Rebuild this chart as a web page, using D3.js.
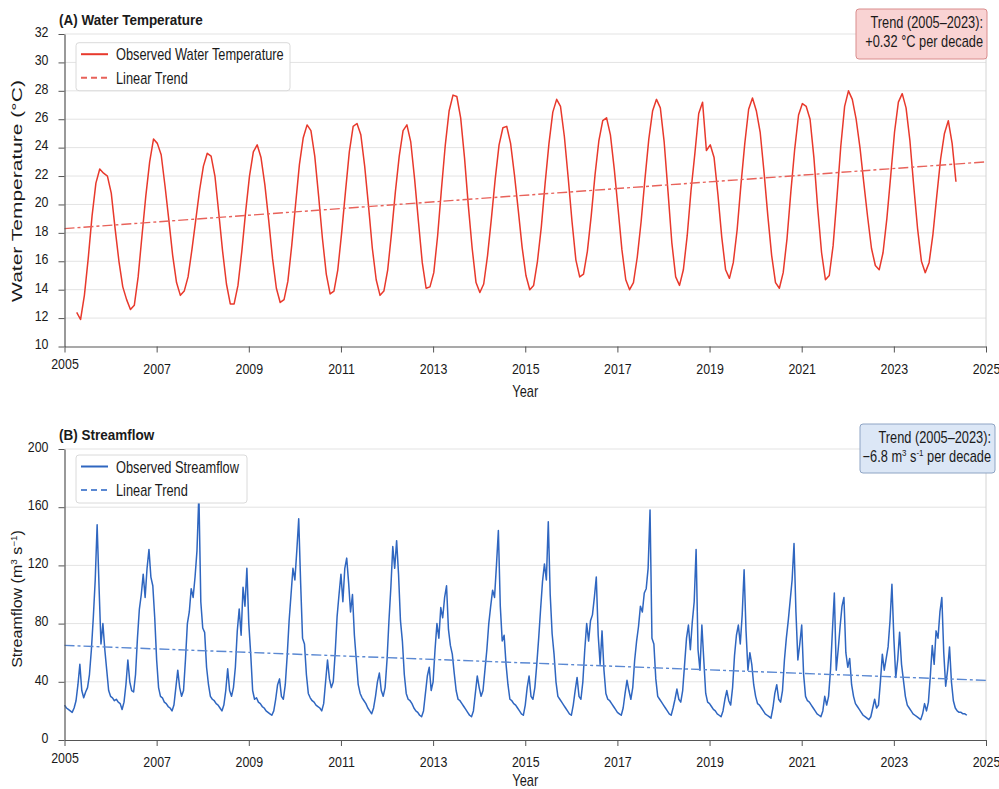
<!DOCTYPE html>
<html>
<head>
<meta charset="utf-8">
<title>Water temperature and streamflow</title>
<script src="https://cdn.jsdelivr.net/npm/d3@7/dist/d3.min.js"></script>
<style>
  body { margin: 0; background: #fff; }
  svg { display: block; font-family: "Liberation Sans", Arial, Helvetica, sans-serif; }
</style>
</head>
<body>
<svg id="chart"></svg>
<script>
// shared x axis
const yearTicks = [2005, 2007, 2009, 2011, 2013, 2015, 2017, 2019, 2021, 2023, 2025];
const trendYears = [2005, 2025];

// (A) water temperature, one reading a month from spring 2005
const tempStart = 2005.265, tempStep = 1 / 12;
const tempValues = [
  12.4, 11.9, 13.6, 16.2, 19.2, 21.5, 22.5, 22.2, 22.0, 20.8,
  18.3, 16.0, 14.2, 13.3, 12.6, 12.9, 14.9, 17.8, 20.6, 23.0,
  24.6, 24.3, 23.5, 21.3, 18.9, 16.4, 14.5, 13.6, 13.9, 14.9,
  16.8, 18.9, 21.0, 22.7, 23.6, 23.4, 22.0, 19.4, 16.7, 14.4,
  13.0, 13.0, 14.3, 16.7, 19.5, 22.0, 23.7, 24.2, 23.3, 21.4,
  18.9, 16.2, 14.1, 13.1, 13.3, 14.6, 17.1, 20.0, 22.8, 24.7,
  25.6, 25.2, 23.4, 20.6, 17.6, 15.1, 13.7, 13.9, 15.4, 18.0,
  20.9, 23.7, 25.5, 25.7, 24.9, 22.7, 19.9, 16.9, 14.7, 13.6,
  13.9, 15.4, 18.0, 20.9, 23.4, 25.2, 25.6, 24.4, 21.8, 18.8,
  15.9, 14.1, 14.2, 15.2, 17.8, 21.1, 24.2, 26.6, 27.7, 27.6,
  26.1, 23.3, 19.9, 16.9, 14.5, 13.8, 14.4, 16.4, 19.0, 21.8,
  24.2, 25.4, 25.5, 24.3, 22.1, 19.6, 17.0, 15.0, 14.0, 14.3,
  16.0, 18.4, 21.5, 24.3, 26.5, 27.4, 26.9, 24.8, 21.9, 18.8,
  16.1, 14.9, 15.1, 16.7, 19.2, 22.1, 24.5, 25.9, 26.1, 24.9,
  22.5, 19.7, 16.8, 14.7, 14.0, 14.5, 16.3, 18.8, 21.8, 24.6,
  26.6, 27.4, 26.8, 24.4, 20.9, 17.3, 14.9, 14.3, 15.4, 17.8,
  21.0, 23.6, 26.4, 27.2, 23.8, 24.2, 23.3, 20.7, 17.7, 15.4,
  14.8, 15.9, 18.2, 21.4, 24.3, 26.7, 27.5, 26.6, 25.1, 22.3,
  19.2, 16.4, 14.5, 14.1, 15.2, 17.6, 20.9, 23.9, 26.3, 27.1,
  26.9, 26.0, 23.3, 19.7, 16.6, 14.7, 15.0, 17.1, 20.5, 24.1,
  26.9, 28.0, 27.4, 26.0, 24.0, 21.5, 19.1, 16.9, 15.7, 15.4,
  16.6, 19.0, 22.0, 25.1, 27.2, 27.8, 26.8, 24.5, 21.3, 18.3,
  16.0, 15.2, 15.9, 17.9, 20.6, 23.2, 25.0, 25.9, 24.3, 21.6
];
const tempTrend = [18.3, 23.0];
const tempTicks = [10, 12, 14, 16, 18, 20, 22, 24, 26, 28, 30, 32];

// (B) streamflow, two readings a month, one row per seasonal cycle
const flowStart = 2005, flowStep = 1 / 24;
const flowValues = [
  24, 22, 21, 20, 19, 22, 27, 38, 52, 34, 29, 33, 36, 45, 62, 84, 110, 148, 105, 66, 80, 62, 48, 34, 30, 29, 27, 28, 26, 25, 21,
  26, 38, 55, 40, 34, 33, 45, 70, 90, 100, 114, 98, 118, 131, 112, 106, 84, 55, 36, 30, 29, 26, 25, 23, 22, 20,
  24, 36, 48, 36, 30, 34, 55, 80, 88, 104, 98, 112, 130, 169, 95, 77, 74, 50, 38, 30, 28, 27, 25, 24, 22, 20,
  24, 34, 49, 34, 30, 36, 50, 75, 90, 72, 105, 92, 118, 80, 59, 34, 28, 29, 26, 25, 23, 22, 20, 19, 18, 17,
  20, 28, 38, 42, 30, 28, 38, 58, 82, 100, 118, 110, 130, 152, 108, 70, 66, 45, 32, 29, 27, 26, 24, 23, 22, 20,
  25, 40, 55, 42, 36, 40, 60, 85, 100, 114, 95, 118, 125, 108, 88, 100, 72, 55, 38, 32, 29, 27, 25, 22, 20, 18,
  22, 30, 40, 46, 34, 30, 36, 55, 82, 105, 133, 118, 137, 114, 82, 68, 45, 32, 28, 27, 25, 22, 20, 19, 17, 16,
  20, 32, 44, 50, 34, 40, 62, 80, 70, 91, 84, 98, 106, 76, 65, 59, 46, 34, 28, 27, 25, 23, 21, 19, 17, 16,
  20, 32, 44, 36, 30, 34, 48, 62, 80, 92, 103, 98, 120, 144, 92, 68, 72, 52, 38, 28, 27, 25, 24, 22, 20, 18, 17,
  24, 36, 44, 30, 28, 36, 52, 70, 90, 109, 121, 110, 150, 100, 73, 59, 40, 30, 28, 26, 24, 22, 20, 18, 17,
  24, 34, 43, 30, 28, 40, 62, 80, 68, 82, 86, 98, 112, 72, 52, 75, 48, 32, 28, 27, 25, 23, 21, 19, 18, 17,
  22, 32, 41, 34, 28, 36, 55, 68, 78, 92, 88, 101, 104, 118, 158, 70, 66, 42, 30, 28, 26, 24, 22, 20, 18, 17,
  22, 28, 35, 28, 26, 34, 52, 70, 79, 62, 81, 95, 131, 62, 48, 79, 55, 32, 26, 25, 23, 21, 20, 18, 17, 16,
  20, 28, 34, 27, 24, 36, 58, 72, 79, 66, 86, 117, 75, 48, 60, 52, 38, 30, 25, 24, 22, 20, 18, 17, 16, 15,
  22, 32, 38, 28, 26, 34, 55, 70, 82, 96, 110, 135, 88, 55, 66, 79, 45, 30, 27, 26, 24, 22, 20, 18, 17, 16,
  20, 30, 24, 30, 48, 75, 101, 48, 62, 78, 92, 98, 60, 50, 56, 38, 30, 25, 23, 21, 19, 17, 16, 15, 14,
  16, 22, 28, 22, 24, 40, 59, 48, 56, 64, 82, 107, 70, 43, 55, 74, 52, 41, 30, 24, 22, 20, 18, 17, 16, 15, 14,
  18, 25, 20, 26, 44, 65, 52, 75, 70, 88, 98, 60, 37, 48, 64, 40, 27, 22, 20, 19, 19, 18, 18, 17
];
const flowTrend = [65, 41];
const flowTicks = [0, 40, 80, 120, 160, 200];

const width = 999, height = 789;
const left = 64.5, right = 986;
const narrow = 0.8;   // the source uses a narrow sans for labels

const svg = d3.select("#chart").attr("width", width).attr("height", height);
const x = d3.scaleLinear().domain([2005, 2025]).range([left, right]);

// squeeze text horizontally around its own anchor
function squeeze(sel, k) {
  sel.each(function () {
    const t = d3.select(this);
    const tx = +t.attr("x") || 0, ty = +t.attr("y") || 0;
    t.attr("x", null).attr("y", null)
      .attr("transform", `translate(${tx},${ty}) scale(${k},1)`);
  });
}

// parts: strings, or {sup: "3"} for superscripts
function addParts(t, parts) {
  [].concat(parts).forEach(p => {
    if (typeof p === "string") t.append("tspan").text(p);
    else t.append("tspan").attr("baseline-shift", "super").attr("font-size", "62%").text(p.sup);
  });
}

function label(g, px, py, parts, size, anchor, k, weight) {
  const t = g.append("text")
    .attr("x", px).attr("y", py)
    .attr("font-size", size)
    .attr("font-weight", weight || "normal")
    .attr("text-anchor", anchor)
    .attr("fill", "#1a1a1a");
  addParts(t, parts);
  squeeze(t, k);
  return t;
}

function drawPanel(p) {
  const y = d3.scaleLinear()
    .domain([p.ticks[0], p.ticks[p.ticks.length - 1]])
    .range([p.bottom, p.top]);
  const g = svg.append("g");

  // grid + light frame on the right
  g.append("g").selectAll("line").data(p.ticks.slice(1)).join("line")
    .attr("x1", left).attr("x2", right)
    .attr("y1", d => y(d)).attr("y2", d => y(d))
    .attr("stroke", "#e3e3e3");
  g.append("line")
    .attr("x1", right).attr("x2", right).attr("y1", p.top).attr("y2", p.bottom)
    .attr("stroke", "#d4d4d4");

  const line = d3.line()
    .x((d, i) => x(p.start + i * p.step))
    .y(d => y(d));
  g.append("path").datum(p.values)
    .attr("d", line)
    .attr("fill", "none")
    .attr("stroke", p.color)
    .attr("stroke-width", 1.5)
    .attr("stroke-linejoin", "round");

  g.append("path").datum(p.trend)
    .attr("d", d3.line().x((d, i) => x(trendYears[i])).y(d => y(d)))
    .attr("fill", "none")
    .attr("stroke", p.trendColor)
    .attr("stroke-width", 1.4)
    .attr("stroke-dasharray", "10,3,3,3");

  // axes
  const xa = g.append("g")
    .attr("transform", `translate(0,${p.bottom})`)
    .call(d3.axisBottom(x).tickValues(yearTicks).tickFormat(d3.format("d"))
      .tickSize(6).tickPadding(10).tickSizeOuter(0));
  const ya = g.append("g")
    .attr("transform", `translate(${left},0)`)
    .call(d3.axisLeft(y).tickValues(p.ticks).tickSize(6).tickPadding(10).tickSizeOuter(0));
  ya.selectAll(".tick text").attr("dy", "0.15em");
  [xa, ya].forEach(a => {
    a.attr("font-family", null).attr("font-size", 15.5);
    a.select(".domain").attr("stroke", "#555").attr("stroke-width", 1.2);
    a.selectAll(".tick line").attr("stroke", "#555");
    a.selectAll(".tick text").attr("fill", "#1a1a1a");
    squeeze(a.selectAll(".tick text"), narrow);
  });
  // first year label sits a little higher in the source
  xa.select(".tick text").attr("transform", `translate(0,${16 - p.firstLift}) scale(${narrow},1)`);

  // titles
  label(g, 59, p.top - 9, p.title, 15, "start", 0.9, "bold");
  label(g, (left + right) / 2, p.bottom + p.yearGap, "Year", 16, "middle", narrow);
  const yl = g.append("text")
    .attr("transform", `translate(17,${p.yLabelY}) rotate(-90) scale(1,${p.yLabelSqueeze})`)
    .attr("dy", "0.35em")
    .attr("text-anchor", "middle")
    .attr("font-size", p.yLabelSize)
    .attr("fill", "#1a1a1a");
  addParts(yl, p.yLabel);

  // legend
  const lg = g.append("g").attr("transform", `translate(76,${p.top + p.legendTop})`);
  lg.append("rect")
    .attr("width", p.legendWidth).attr("height", 48).attr("rx", 3)
    .attr("fill", "#fff").attr("stroke", "#dadada");
  p.legend.forEach((item, i) => {
    const ly = 11.5 + i * 23.5;
    lg.append("line")
      .attr("x1", 5).attr("x2", 32).attr("y1", ly).attr("y2", ly)
      .attr("stroke", item.dashed ? p.trendColor : p.color)
      .attr("stroke-width", 2)
      .attr("stroke-dasharray", item.dashed ? "6,4" : null);
    label(lg, 40, ly + 6, item.text, 16, "start", narrow);
  });

  // trend note
  const b = p.box;
  const bg = g.append("g").attr("transform", `translate(${b.x},${b.y})`);
  bg.append("rect")
    .attr("width", b.w).attr("height", b.h).attr("rx", 3)
    .attr("fill", b.fill).attr("stroke", b.stroke);
  label(bg, b.w - 4, 19, "Trend (2005\u20132023):", 16, "end", narrow);
  label(bg, b.w - 4, 37.5, b.note, 16, "end", narrow);
}

drawPanel({
  title: "(A) Water Temperature",
  yLabel: ["Water Temperature (\u00b0C)"],
  yLabelY: 191, yLabelSize: 21, yLabelSqueeze: 0.7,
  top: 34, bottom: 346.5,
  ticks: tempTicks,
  start: tempStart, step: tempStep, values: tempValues,
  trend: tempTrend,
  color: "#e8392c", trendColor: "#e8625a",
  firstLift: 5, yearGap: 50.5,
  legendTop: 8.7, legendWidth: 214,
  legend: [{ text: "Observed Water Temperature" }, { text: "Linear Trend", dashed: true }],
  box: { x: 856, y: 9, w: 131, h: 50, fill: "#f9d3d3", stroke: "#d98d8d",
         note: "+0.32 \u00b0C per decade" }
});

drawPanel({
  title: "(B) Streamflow",
  yLabel: ["Streamflow (m", { sup: "3" }, " s", { sup: "\u22121" }, ")"],
  yLabelY: 599, yLabelSize: 16, yLabelSqueeze: 0.9,
  top: 449, bottom: 740,
  ticks: flowTicks,
  start: flowStart, step: flowStep, values: flowValues,
  trend: flowTrend,
  color: "#2f66c0", trendColor: "#5a88d2",
  firstLift: 4, yearGap: 45.5,
  legendTop: 6, legendWidth: 171,
  legend: [{ text: "Observed Streamflow" }, { text: "Linear Trend", dashed: true }],
  box: { x: 860, y: 424, w: 135, h: 49, fill: "#dce7f6", stroke: "#8ea4c4",
         note: ["\u22126.8 m", { sup: "3" }, " s", { sup: "-1" }, " per decade"] }
});
</script>
</body>
</html>
